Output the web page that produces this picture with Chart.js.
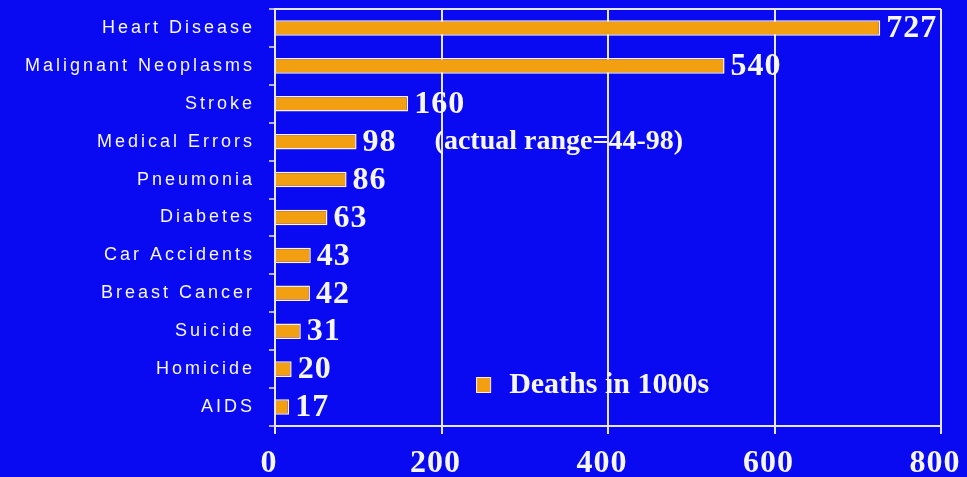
<!DOCTYPE html>
<html>
<head>
<meta charset="utf-8">
<script src="https://cdn.jsdelivr.net/npm/chart.js@4/dist/chart.umd.min.js"></script>
<style>
  html, body { margin: 0; padding: 0; background: #0a0af2; }
  #wrap { width: 967px; height: 477px; }
  canvas { display: block; }
</style>
</head>
<body>
<div id="wrap"><canvas id="chart" width="967" height="477"></canvas></div>
<script>
// Leading causes of death, thousands per year
const categories = [
  'Heart Disease', 'Malignant Neoplasms', 'Stroke', 'Medical Errors',
  'Pneumonia', 'Diabetes', 'Car Accidents', 'Breast Cancer',
  'Suicide', 'Homicide', 'AIDS'
];
const deaths = [727, 540, 160, 98, 86, 63, 43, 42, 31, 20, 17];
const xTickValues = [0, 200, 400, 600, 800];
const seriesLabel = 'Deaths in 1000s';
const noteCategory = 'Medical Errors';
const noteText = '(actual range=44-98)';

const BG = '#0a0af2';
const BAR = '#f2a012';
const INK = '#f6f6ff';
const RULE = '#e6e6fa';

// Blue backdrop behind everything
const backdrop = {
  id: 'backdrop',
  beforeDraw(chart) {
    const ctx = chart.ctx;
    ctx.save();
    ctx.fillStyle = BG;
    ctx.fillRect(0, 0, chart.width, chart.height);
    ctx.restore();
  }
};

// Per-axis letter spacing for the tick labels
const spacing = { x: '1px', y: '3px' };
const tickSpacing = {
  id: 'tickSpacing',
  afterLayout(chart) {
    Object.keys(spacing).forEach(id => {
      const scale = chart.scales[id];
      if (!scale || scale._spaced) return;
      const orig = scale.drawLabels;
      scale.drawLabels = function (area) {
        const ctx = this.ctx;
        const prev = ctx.letterSpacing;
        ctx.letterSpacing = spacing[id];
        orig.call(this, area);
        ctx.letterSpacing = prev || '0px';
      };
      scale._spaced = true;
    });
  }
};

// Value beside each bar, the side note and the inset legend
const annotations = {
  id: 'annotations',
  afterDatasetsDraw(chart) {
    const ctx = chart.ctx;
    const meta = chart.getDatasetMeta(0);
    const area = chart.chartArea;
    ctx.save();
    ctx.letterSpacing = '1px';
    ctx.fillStyle = INK;
    ctx.textBaseline = 'middle';
    ctx.textAlign = 'left';
    ctx.font = 'bold 32px "Liberation Serif"';
    const ds = chart.data.datasets[0];
    meta.data.forEach((bar, i) => {
      ctx.fillText(String(ds.data[i]), bar.x + 6, bar.y + 1);
    });

    // side note next to the flagged category
    const ni = categories.indexOf(noteCategory);
    const nb = meta.data[ni];
    const valW = ctx.measureText(String(ds.data[ni])).width;
    ctx.letterSpacing = '0px';
    ctx.font = 'bold 28px "Liberation Serif"';
    ctx.fillText(noteText, nb.x + 6 + valW + 38, nb.y);

    // legend inside the plot
    const w = area.right - area.left;
    const lx = area.left + w * 0.302;
    const ly = area.bottom - 42;
    ctx.fillStyle = ds.backgroundColor;
    ctx.fillRect(lx, ly - 7, 14, 15);
    ctx.strokeStyle = '#fff0d8';
    ctx.lineWidth = 1;
    ctx.strokeRect(lx + 0.5, ly - 6.5, 14, 15);
    ctx.fillStyle = INK;
    ctx.font = 'bold 30px "Liberation Serif"';
    ctx.fillText(ds.label, lx + 33, ly + 1);
    ctx.restore();
  }
};

new Chart(document.getElementById('chart'), {
  type: 'bar',
  data: {
    labels: categories,
    datasets: [{
      label: seriesLabel,
      data: deaths,
      backgroundColor: BAR,
      borderColor: '#fff2d6',
      borderWidth: 1.5,
      barPercentage: 0.41,
      categoryPercentage: 1
    }]
  },
  options: {
    indexAxis: 'y',
    responsive: false,
    animation: false,
    events: [],
    layout: { padding: { top: 9, right: 26, left: 0, bottom: 0 } },
    plugins: {
      legend: { display: false },
      tooltip: { enabled: false }
    },
    scales: {
      x: {
        min: 0,
        max: 800,
        afterBuildTicks(scale) {
          scale.ticks = xTickValues.map(v => ({ value: v }));
        },
        afterFit(scale) {
          scale.height = 51;
          scale.paddingTop = 0;
          scale.paddingBottom = 0;
          scale.paddingLeft = 0;
          scale.paddingRight = 0;
        },
        grid: {
          color: RULE,
          lineWidth: 2,
          tickLength: 8,
          tickColor: RULE,
          tickWidth: 2
        },
        border: { display: true, color: RULE, width: 2 },
        ticks: {
          color: INK,
          padding: 11,
          labelOffset: -6,
          font: { family: '"Liberation Serif"', size: 32, weight: 'bold' }
        }
      },
      y: {
        afterFit(scale) {
          scale.width = 275;
          scale.paddingTop = 0;
          scale.paddingBottom = 0;
        },
        grid: {
          offset: true,
          drawOnChartArea: true,
          color: ctx => (ctx.index === 0 ? RULE : 'rgba(0,0,0,0)'),
          lineWidth: 2,
          tickColor: RULE,
          tickWidth: 1.5,
          tickLength: 6
        },
        border: { display: true, color: RULE, width: 2 },
        ticks: {
          color: INK,
          padding: 14,
          font: { family: '"Liberation Sans"', size: 18 }
        }
      }
    }
  },
  plugins: [backdrop, tickSpacing, annotations]
});
</script>
</body>
</html>
